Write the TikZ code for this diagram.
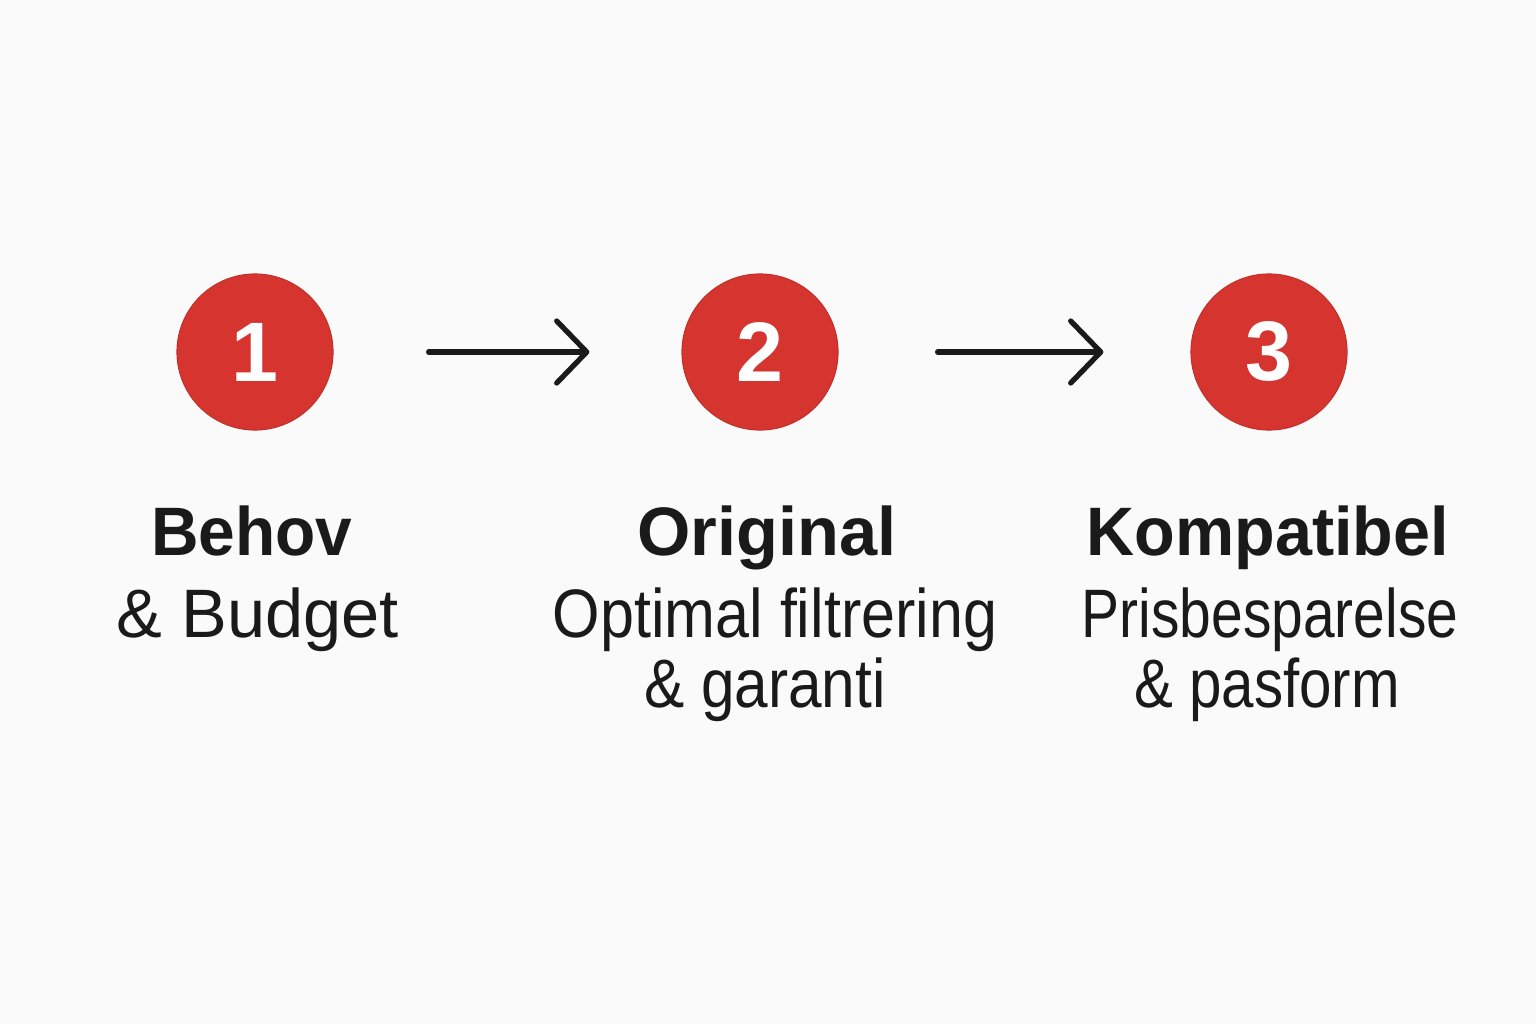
\documentclass[tikz,border=0pt]{standalone}
\usepackage{fontspec}
\setmainfont{Liberation Sans}
\usetikzlibrary{arrows.meta}
\definecolor{bg}{HTML}{FAFAFA}
\definecolor{stepred}{HTML}{D6352F}
\definecolor{ink}{HTML}{1A1A1A}
\newcommand{\nx}[2]{\scalebox{#1}[1]{#2}}
\tikzset{
  stepcircle/.style={circle,fill=stepred,draw=stepred!90!black,line width=0.3pt,minimum size=1.56cm,inner sep=0pt,text=white,font=\fontsize{24}{24}\selectfont\bfseries},
  conn/.style={draw=ink,line width=1.5pt,line cap=round,-{Straight Barb[length=3mm,width=6.2mm,line cap=round,line join=round]}},
  titletext/.style={anchor=base,text=ink,font=\fontsize{19.5}{20}\selectfont\bfseries},
  bodytext/.style={anchor=base,text=ink,font=\fontsize{19.5}{20}\selectfont},
}
\begin{document}
\begin{tikzpicture}[x=0.01cm,y=-0.01cm]
\fill[bg] (0,0) rectangle (1536,1024);
\useasboundingbox (0,0) rectangle (1536,1024);
\node[stepcircle] (c1) at (255,352) {1};
\node[stepcircle] (c2) at (760,352) {2};
\node[stepcircle] (c3) at (1269,352) {3};
\draw[conn,shorten <=0.95cm,shorten >=0.92cm] (c1) -- (c2);
\draw[conn,shorten <=0.99cm,shorten >=0.87cm] (c2) -- (c3);
\node[titletext] (t1) at (252,555) {\nx{0.96}{Behov}};
\node[bodytext] (b1) at (258,637) {\& Budget};
\node[titletext] (t2) at (767,555) {Original};
\node[bodytext] (b2) at (775,637) {\nx{0.89}{Optimal filtrering}};
\node[bodytext] (d2) at (765,707) {\nx{0.88}{\& garanti}};
\node[titletext] (t3) at (1268,555) {\nx{0.97}{Kompatibel}};
\node[bodytext] (b3) at (1270,637) {\nx{0.83}{Prisbesparelse}};
\node[bodytext] (d3) at (1267,707) {\nx{0.85}{\& pasform}};
\end{tikzpicture}
\end{document}
